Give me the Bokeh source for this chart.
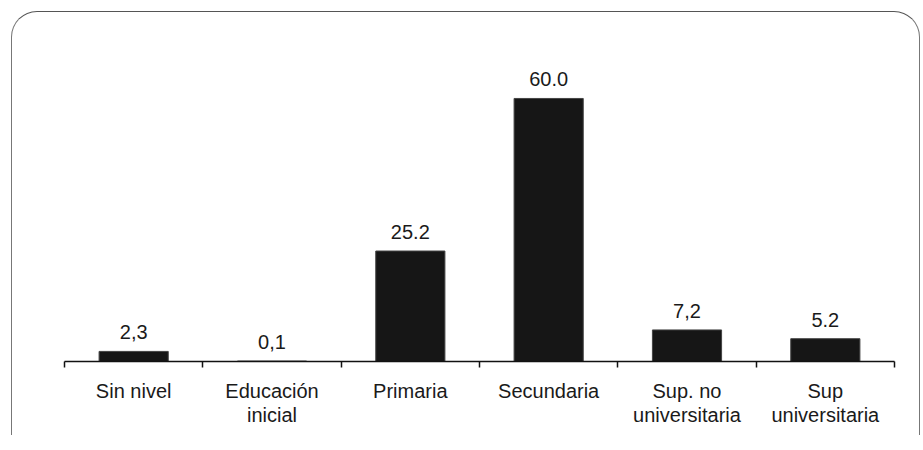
from bokeh.plotting import figure
from bokeh.models import Range1d, FixedTicker, ColumnDataSource
from bokeh.embed import file_html
from bokeh.resources import INLINE
from bokeh.core.properties import value

# ---- data ----
categories = ["Sin nivel", "Educación\ninicial", "Primaria", "Secundaria",
              "Sup. no\nuniversitaria", "Sup\nuniversitaria"]
percentages = [2.3, 0.1, 25.2, 60.0, 7.2, 5.2]
value_labels = ["2,3", "0,1", "25.2", "60.0", "7,2", "5.2"]

n = len(categories)
x_pos = [i + 0.5 for i in range(n)]
boundaries = list(range(n + 1))

src = ColumnDataSource(dict(x=x_pos, top=percentages, lbl=value_labels))

p = figure(width=909, height=424,
           x_range=Range1d(0, n), y_range=Range1d(0, 75.5),
           output_backend="svg", toolbar_location=None,
           y_axis_location=None,
           min_border_left=52, min_border_right=27,
           min_border_top=18, min_border_bottom=75)
p.margin = (11, 0, 0, 11)
p.styles = {"border-top": "1.5px solid #555", "border-left": "1.5px solid #777",
            "border-right": "1.5px solid #777",
            "border-top-left-radius": "26px", "border-top-right-radius": "26px",
            "overflow": "hidden"}
p.outline_line_color = None
p.grid.visible = False
p.background_fill_color = None
p.border_fill_color = None

p.vbar(x="x", top="top", width=0.5, source=src,
       fill_color="#161616", line_color="#444444", line_width=1)

p.text(x="x", y="top", text="lbl", source=src,
       text_align="center", text_baseline="bottom", y_offset=-12,
       text_font=value("Liberation Sans"), text_font_size="20px",
       text_color="#1a1a1a")

ax = p.xaxis[0]
ax.ticker = FixedTicker(ticks=x_pos, minor_ticks=boundaries)
ax.major_label_overrides = {x: c for x, c in zip(x_pos, categories)}
ax.major_tick_out = 0
ax.major_tick_in = 0
ax.minor_tick_in = 0
ax.minor_tick_out = 6
ax.minor_tick_line_color = "#111111"
ax.minor_tick_line_width = 1.5
ax.axis_line_color = "#111111"
ax.axis_line_width = 1.5
ax.major_label_standoff = 12
ax.major_label_text_font = "Liberation Sans"
ax.major_label_text_font_size = "20px"
ax.major_label_text_line_height = 1.1
ax.major_label_text_color = "#1a1a1a"

open("out.html", "w").write(file_html(p, INLINE))
